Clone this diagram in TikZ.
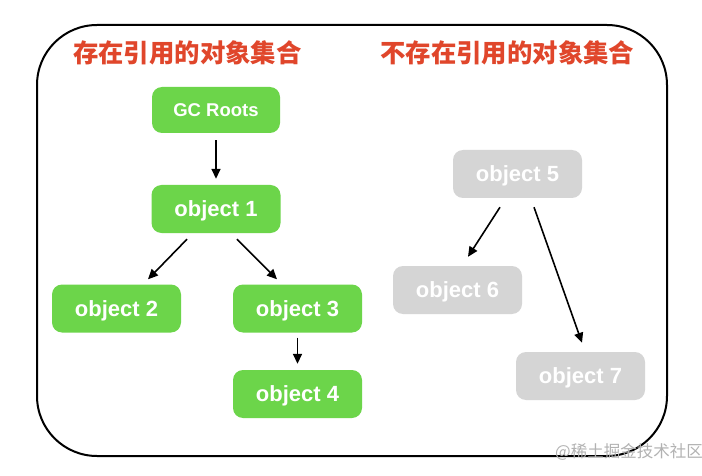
\documentclass[tikz,border=0pt]{standalone}
\usepackage{fontspec}
\setmainfont{Liberation Sans}
\newfontfamily\cjk{Noto Sans CJK SC}
\usetikzlibrary{arrows.meta,calc}
\definecolor{nodegreen}{RGB}{108,213,74}
\definecolor{nodegray}{RGB}{213,213,213}
\definecolor{titlered}{RGB}{224,70,43}
\definecolor{wmgray}{RGB}{178,178,178}
\tikzset{
  objbox/.style={rounded corners=10pt, minimum width=129pt, minimum height=48pt, inner sep=0pt,
    text depth=0pt, text=white, font=\fontsize{22}{26}\selectfont\bfseries},
  live/.style={objbox, fill=nodegreen},
  dead/.style={objbox, fill=nodegray},
  ref/.style={line width=1.6pt, -{Triangle[length=10pt,width=9pt]}},
  settitle/.style={anchor=west, inner sep=0pt, text=titlered, font=\cjk\fontsize{25.4}{30}\selectfont\bfseries},
}
\begin{document}
\begin{tikzpicture}[x=1pt,y=-1pt]
\useasboundingbox (0,0) rectangle (702,476);
\fill[white] (0,0) rectangle (702,476);
\draw[line width=2pt, rounded corners=60pt] (37,25) rectangle (667,456);
\node[settitle] (t1) at (73,53) {存在引用的对象集合};
\node[settitle] (t2) at (380,53) {不存在引用的对象集合};
\node[live, font=\fontsize{18.5}{22}\selectfont\bfseries, minimum width=128pt, minimum height=46pt] (gc) at (216,110) {GC Roots};
\node[live] (o1) at (216,209) {object 1};
\node[live] (o2) at (116.5,308.5) {object 2};
\node[live] (o3) at (297.5,308.5) {object 3};
\node[live] (o4) at (297.5,394) {object 4};
\node[dead] (o5) at (517.5,174) {object 5};
\node[dead] (o6) at (457.5,290) {object 6};
\node[dead] (o7) at (580.5,376) {object 7};
\draw[ref] ($(gc.south)+(0,7)$) -- ($(o1.north)+(0,-6)$);
\draw[ref] ($(o1.south)+(-29,6)$) -- ($(o2.north)+(31.5,-5)$);
\draw[ref] ($(o1.south)+(21,6)$) -- ($(o3.north)+(-20.5,-5)$);
\draw[ref] ($(o3.south)+(0,5)$) -- ($(o4.north)+(0,-6)$);
\draw[ref] ($(o5.south)+(-17.5,9)$) -- ($(o6.north)+(10.5,-9)$);
\draw[ref] ($(o5.south)+(16.5,9)$) -- ($(o7.north)+(1.5,-9)$);
\node[anchor=west, inner sep=0pt, text=wmgray, font=\cjk\fontsize{16.5}{20}\selectfont] (wm) at (555,452) {@稀土掘金技术社区};
\end{tikzpicture}
\end{document}
